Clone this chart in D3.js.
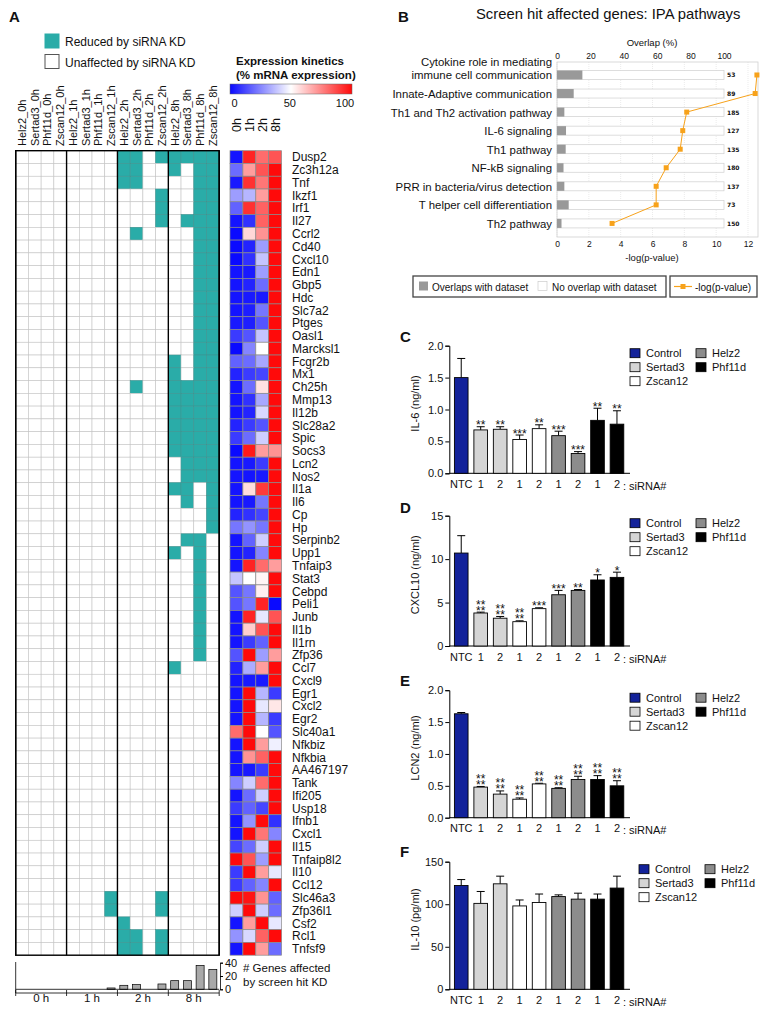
<!DOCTYPE html>
<html>
<head>
<meta charset="utf-8">
<script src="https://cdn.jsdelivr.net/npm/d3@7"></script>
<style>
  body { margin: 0; background: #fff; }
  svg text { font-family: "Liberation Sans", Arial, sans-serif; fill: #111; }
</style>
</head>
<body>
<svg id="fig" width="768" height="1015"></svg>
<script>
// ---------------- Panel A data ----------------
var kdColumns = ["Helz2_0h", "Sertad3_0h", "Phf11d_0h", "Zscan12_0h",
                 "Helz2_1h", "Sertad3_1h", "Phf11d_1h", "Zscan12_1h",
                 "Helz2_2h", "Sertad3_2h", "Phf11d_2h", "Zscan12_2h",
                 "Helz2_8h", "Sertad3_8h", "Phf11d_8h", "Zscan12_8h"];
var timeGroups = ["0 h", "1 h", "2 h", "8 h"];
var timepoints = ["0h", "1h", "2h", "8h"];

var genes = ["Dusp2", "Zc3h12a", "Tnf", "Ikzf1", "Irf1", "Il27", "Ccrl2", "Cd40", "Cxcl10", "Edn1",
             "Gbp5", "Hdc", "Slc7a2", "Ptges", "Oasl1", "Marcksl1", "Fcgr2b", "Mx1", "Ch25h", "Mmp13",
             "Il12b", "Slc28a2", "Spic", "Socs3", "Lcn2", "Nos2", "Il1a", "Il6", "Cp", "Hp",
             "Serpinb2", "Upp1", "Tnfaip3", "Stat3", "Cebpd", "Peli1", "Junb", "Il1b", "Il1rn", "Zfp36",
             "Ccl7", "Cxcl9", "Egr1", "Cxcl2", "Egr2", "Slc40a1", "Nfkbiz", "Nfkbia", "AA467197", "Tank",
             "Ifi205", "Usp18", "Ifnb1", "Cxcl1", "Il15", "Tnfaip8l2", "Il10", "Ccl12", "Slc46a3", "Zfp36l1",
             "Csf2", "Rcl1", "Tnfsf9"];

// 1 = reduced by siRNA KD, one character per kdColumns entry
var kdHits = [
  "0000000011011111", "0000000011001011", "0000000011000011", "0000000000010011", "0000000000010011",
  "0000000000010111", "0000000001000011", "0000000000000011", "0000000000000011", "0000000000000011",
  "0000000000000011", "0000000000000011", "0000000000000011", "0000000000000011", "0000000000000011",
  "0000000000000011", "0000000000001011", "0000000000001011", "0000000001001111", "0000000000001111",
  "0000000000001111", "0000000000001111", "0000000000001111", "0000000000001111", "0000000000000111",
  "0000000000000111", "0000000000001101", "0000000000000101", "0000000000000001", "0000000000000001",
  "0000000000000110", "0000000000001010", "0000000000000010", "0000000000000010", "0000000000000010",
  "0000000000000010", "0000000000000010", "0000000000000010", "0000000000000010", "0000000000000010",
  "0000000000001000", "0000000000000000", "0000000000000000", "0000000000000000", "0000000000000000",
  "0000000000000000", "0000000000000000", "0000000000000000", "0000000000000000", "0000000000000000",
  "0000000000000000", "0000000000000000", "0000000000000000", "0000000000000000", "0000000000000000",
  "0000000000000000", "0000000000000000", "0000000000000000", "0000000100010000", "0000000100010000",
  "0000000010000000", "0000000011010000", "0000000011010000"];

// % mRNA expression at 0h, 1h, 2h, 8h
var kinetics = [
  [2, 95, 80, 85], [20, 70, 85, 100], [3, 92, 78, 100], [30, 35, 70, 100], [18, 92, 82, 100],
  [2, 8, 82, 100], [0, 58, 72, 100], [0, 5, 30, 100], [0, 8, 38, 100], [2, 3, 30, 100],
  [2, 5, 20, 100], [2, 3, 3, 100], [2, 4, 22, 100], [3, 4, 15, 100], [10, 15, 38, 100],
  [0, 25, 50, 100], [18, 20, 32, 100], [5, 10, 12, 100], [2, 20, 56, 100], [2, 8, 32, 100],
  [2, 5, 42, 100], [5, 10, 15, 100], [10, 20, 40, 100], [0, 97, 70, 72], [2, 3, 10, 100],
  [2, 2, 3, 100], [2, 57, 90, 100], [2, 3, 22, 100], [5, 8, 12, 100], [22, 28, 22, 100],
  [2, 18, 40, 100], [2, 5, 25, 100], [2, 95, 80, 70], [38, 50, 52, 100], [15, 22, 53, 100],
  [15, 22, 95, 0], [2, 95, 45, 85], [2, 60, 85, 100], [2, 10, 18, 100], [15, 100, 30, 70],
  [5, 33, 70, 100], [2, 3, 3, 100], [2, 100, 35, 10], [2, 100, 45, 55], [2, 100, 35, 10],
  [80, 100, 50, 15], [2, 100, 70, 47], [2, 72, 82, 100], [2, 3, 10, 100], [25, 40, 80, 100],
  [2, 20, 40, 100], [10, 18, 12, 100], [2, 28, 100, 8], [2, 100, 78, 25], [12, 20, 40, 100],
  [100, 85, 30, 100], [10, 100, 70, 45], [10, 18, 25, 100], [100, 98, 72, 18], [40, 100, 40, 20],
  [2, 70, 100, 45], [28, 42, 82, 100], [2, 100, 70, 20]];

// ---------------- Panel B data ----------------
var pathwayLabels = [["Cytokine role in mediating", "immune cell communication"],
                     ["Innate-Adaptive communication"], ["Th1 and Th2 activation pathway"],
                     ["IL-6 signaling"], ["Th1 pathway"], ["NF-kB signaling"],
                     ["PRR in bacteria/virus detection"], ["T helper cell differentiation"], ["Th2 pathway"]];
var pathwayOverlap = [15.2, 10.0, 4.4, 5.4, 5.2, 3.9, 4.4, 7.0, 2.7];
var pathwaySize = [53, 89, 185, 127, 135, 180, 137, 73, 150];
var pathwayLogP = [12.56, 12.45, 8.15, 7.9, 7.74, 6.86, 6.23, 6.23, 3.46];

// ---------------- Panels C-F data ----------------
var sirnaLabels = ["NTC", "1", "2", "1", "2", "1", "2", "1", "2"];
var sirnaGroups = ["Control", "Sertad3", "Sertad3", "Zscan12", "Zscan12", "Helz2", "Helz2", "Phf11d", "Phf11d"];
var legendOrder = ["Control", "Sertad3", "Zscan12", "Helz2", "Phf11d"];

var il6Mean = [1.50, 0.68, 0.69, 0.53, 0.70, 0.59, 0.31, 0.83, 0.77];
var il6Err = [0.30, 0.05, 0.04, 0.07, 0.06, 0.07, 0.03, 0.19, 0.21];
var il6Stars = [[], ["**"], ["**"], ["***"], ["**"], ["***"], ["***"], ["**"], ["**"]];

var cxcl10Mean = [10.7, 3.8, 3.2, 2.8, 4.3, 5.9, 6.4, 7.6, 7.9];
var cxcl10Err = [2.0, 0.1, 0.2, 0.1, 0.1, 0.5, 0.1, 0.6, 0.6];
var cxcl10Stars = [[], ["**", "**"], ["**", "**"], ["**", "**"], ["***"], ["***"], ["**"], ["*"], ["*"]];

var lcn2Mean = [1.63, 0.48, 0.37, 0.29, 0.53, 0.46, 0.60, 0.60, 0.50];
var lcn2Err = [0.02, 0.01, 0.05, 0.02, 0.01, 0.01, 0.05, 0.06, 0.08];
var lcn2Stars = [[], ["**", "**"], ["**", "**"], ["**", "**"], ["**", "**"], ["**", "**"], ["**", "**"], ["**", "**"], ["**", "**"]];

var il10Mean = [122, 101, 124, 98, 102, 109, 106, 106, 119];
var il10Err = [7, 14, 9, 7, 10, 2, 7, 6, 14];
var il10Stars = [[], [], [], [], [], [], [], [], []];

// ---------------- drawing ----------------
var svg = d3.select("#fig");
var teal = "#2aaca8";

function panelLetter(t, x, y) {
  svg.append("text").attr("x", x).attr("y", y).text(t)
    .style("font-size", "15px").style("font-weight", "bold");
}

//=== Panel A ===
panelLetter("A", 9, 22);

var kdX = d3.scaleBand().domain(kdColumns).range([15.7, 219.2]);
var geneY = d3.scaleBand().domain(genes).range([150.7, 955.2]);
var kinX = d3.scaleBand().domain(timepoints).range([230, 281.6]);
var kinColor = d3.scaleLinear().domain([0, 50, 100]).range(["#0a0aff", "#ffffff", "#ff0a0a"]);

// legend for KD matrix
var kdLegend = [{label: "Reduced by siRNA KD", fill: teal, stroke: teal},
                {label: "Unaffected by siRNA KD", fill: "#fff", stroke: "#555"}];
var kdLeg = svg.append("g").selectAll("g").data(kdLegend).enter().append("g")
  .attr("transform", function (d, i) { return "translate(45," + (34 + i * 20.5) + ")"; });
kdLeg.append("rect").attr("width", 14).attr("height", 14)
  .attr("fill", function (d) { return d.fill; }).attr("stroke", function (d) { return d.stroke; });
kdLeg.append("text").attr("x", 20).attr("y", 12).text(function (d) { return d.label; })
  .style("font-size", "12px");

// column labels
svg.append("g").selectAll("text").data(kdColumns).enter().append("text")
  .attr("transform", function (d) { return "translate(" + (kdX(d) + kdX.bandwidth() / 2 + 4) + ",146) rotate(-90)"; })
  .text(function (d) { return d; })
  .style("font-size", "11px");

// KD cells
var cells = [];
genes.forEach(function (g, i) {
  kdColumns.forEach(function (c, j) { cells.push({gene: g, col: c, hit: kdHits[i][j] === "1"}); });
});
svg.append("g").selectAll("rect").data(cells).enter().append("rect")
  .attr("x", function (d) { return kdX(d.col); })
  .attr("y", function (d) { return geneY(d.gene); })
  .attr("width", kdX.bandwidth()).attr("height", geneY.bandwidth())
  .attr("fill", function (d) { return d.hit ? teal : "#fff"; })
  .attr("stroke", function (d) { return d.hit ? "#3d9491" : "#c4c4c4"; })
  .attr("stroke-width", 0.6);

// group separators and frame
var sepCols = [0, 4, 8, 12];
svg.append("g").selectAll("line").data(sepCols.concat([16])).enter().append("line")
  .attr("x1", function (d) { return d < 16 ? kdX(kdColumns[d]) : kdX.range()[1]; })
  .attr("x2", function (d) { return d < 16 ? kdX(kdColumns[d]) : kdX.range()[1]; })
  .attr("y1", geneY.range()[0]).attr("y2", geneY.range()[1])
  .attr("stroke", "#000").attr("stroke-width", 1.4);
svg.append("rect").attr("x", kdX.range()[0]).attr("y", geneY.range()[0])
  .attr("width", kdX.range()[1] - kdX.range()[0]).attr("height", geneY.range()[1] - geneY.range()[0])
  .attr("fill", "none").attr("stroke", "#000").attr("stroke-width", 1.4);

// expression kinetics heatmap
var kinCells = [];
genes.forEach(function (g, i) {
  timepoints.forEach(function (t, j) { kinCells.push({gene: g, t: t, v: kinetics[i][j]}); });
});
svg.append("g").selectAll("rect").data(kinCells).enter().append("rect")
  .attr("x", function (d) { return kinX(d.t); })
  .attr("y", function (d) { return geneY(d.gene); })
  .attr("width", kinX.bandwidth()).attr("height", geneY.bandwidth())
  .attr("fill", function (d) { return kinColor(d.v); })
  .attr("stroke", "#8a8a8a").attr("stroke-width", 0.7);

svg.append("g").selectAll("text").data(timepoints).enter().append("text")
  .attr("transform", function (d) { return "translate(" + (kinX(d) + kinX.bandwidth() / 2 + 4.5) + ",132) rotate(-90)"; })
  .text(function (d) { return d; })
  .style("font-size", "12.5px");

// gene labels
svg.append("g").selectAll("text").data(genes).enter().append("text")
  .attr("x", 292).attr("y", function (d) { return geneY(d) + geneY.bandwidth() / 2 + 4.3; })
  .text(function (d) { return d; })
  .style("font-size", "12px");

// colour bar
var defs = svg.append("defs");
var grad = defs.append("linearGradient").attr("id", "kinGrad");
[0, 50, 100].forEach(function (v) {
  grad.append("stop").attr("offset", v + "%").attr("stop-color", kinColor(v));
});
svg.append("text").attr("x", 236).attr("y", 65).text("Expression kinetics")
  .style("font-size", "11.5px").style("font-weight", "bold");
svg.append("text").attr("x", 236).attr("y", 79).text("(% mRNA expression)")
  .style("font-size", "11.5px").style("font-weight", "bold");
svg.append("rect").attr("x", 230).attr("y", 84).attr("width", 122).attr("height", 10)
  .attr("fill", "url(#kinGrad)").attr("stroke", "#666").attr("stroke-width", 0.5);
var cbScale = d3.scaleLinear().domain([0, 100]).range([234.5, 345]);
svg.append("g").selectAll("text").data([0, 50, 100]).enter().append("text")
  .attr("x", function (d) { return cbScale(d); }).attr("y", 107)
  .attr("text-anchor", "middle").text(function (d) { return d; })
  .style("font-size", "11px");

// count of affected genes per column
var hitCounts = kdColumns.map(function (c, j) {
  return {col: c, n: d3.sum(kdHits, function (s) { return +s[j]; })};
});
var countY = d3.scaleLinear().domain([0, 40]).range([989.3, 962.7]);
svg.append("g").selectAll("rect").data(hitCounts).enter().append("rect")
  .attr("x", function (d) { return kdX(d.col) + kdX.bandwidth() / 2 - 4; })
  .attr("y", function (d) { return countY(d.n); })
  .attr("width", 8).attr("height", function (d) { return countY(0) - countY(d.n); })
  .attr("fill", "#a9a9a9").attr("stroke", "#000").attr("stroke-width", 0.7);
var countAxis = svg.append("g").attr("transform", "translate(220,0)")
  .call(d3.axisRight(countY).tickValues([0, 20, 40]).tickSize(3).tickPadding(2));
countAxis.selectAll("text").style("font-size", "11px");
countAxis.select(".domain").attr("stroke-width", 0.8);
svg.append("line").attr("x1", kdX.range()[0]).attr("x2", kdX.range()[1])
  .attr("y1", countY(0)).attr("y2", countY(0)).attr("stroke", "#000").attr("stroke-width", 0.8);
svg.append("line").attr("x1", kdX.range()[0]).attr("x2", kdX.range()[0])
  .attr("y1", 962).attr("y2", 993).attr("stroke", "#000").attr("stroke-width", 0.8);
svg.append("line").attr("x1", kdX.range()[0]).attr("x2", kdX.range()[1])
  .attr("y1", 993).attr("y2", 993).attr("stroke", "#000").attr("stroke-width", 0.8);
svg.append("g").selectAll("line").data([0, 4, 8, 12, 16]).enter().append("line")
  .attr("x1", function (d) { return d < 16 ? kdX(kdColumns[d]) : kdX.range()[1]; })
  .attr("x2", function (d) { return d < 16 ? kdX(kdColumns[d]) : kdX.range()[1]; })
  .attr("y1", 990).attr("y2", 996).attr("stroke", "#000").attr("stroke-width", 0.8);
svg.append("g").selectAll("text").data(timeGroups).enter().append("text")
  .attr("x", function (d, i) { return kdX(kdColumns[i * 4]) + kdX.bandwidth() * 2; })
  .attr("y", 1002).attr("text-anchor", "middle").text(function (d) { return d; })
  .style("font-size", "11.5px");
svg.append("text").attr("x", 243).attr("y", 972).text("# Genes affected").style("font-size", "11.5px");
svg.append("text").attr("x", 243).attr("y", 986).text("by screen hit KD").style("font-size", "11.5px");

//=== Panel B ===
panelLetter("B", 398, 22);
svg.append("text").attr("x", 476).attr("y", 19).text("Screen hit affected genes: IPA pathways")
  .style("font-size", "14.8px");

var ipaOverlapX = d3.scaleLinear().domain([0, 100]).range([557, 724]);
var ipaLogX = d3.scaleLinear().domain([0, 12]).range([557, 748]);
var ipaY = d3.scaleBand().domain(d3.range(pathwayLabels.length)).range([65.7, 232.7]);
var plotTop = 62, plotBottom = 237, plotRight = 758;

svg.append("g").selectAll("line").data(ipaLogX.ticks(6)).enter().append("line")
  .attr("x1", function (d) { return ipaLogX(d); }).attr("x2", function (d) { return ipaLogX(d); })
  .attr("y1", plotTop).attr("y2", plotBottom)
  .attr("stroke", "#e2e2e2").attr("stroke-width", 0.7).attr("stroke-dasharray", "1,1");
svg.append("rect").attr("x", 557).attr("y", plotTop).attr("width", plotRight - 557)
  .attr("height", plotBottom - plotTop).attr("fill", "none").attr("stroke", "#d0d0d0").attr("stroke-width", 0.8);

var topAx = svg.append("g").attr("transform", "translate(0," + plotTop + ")")
  .call(d3.axisTop(ipaOverlapX).tickValues([0, 20, 40, 60, 80, 100]).tickSize(0).tickPadding(3));
topAx.select(".domain").remove();
topAx.selectAll("text").style("font-size", "8.5px");
var botAx = svg.append("g").attr("transform", "translate(0," + plotBottom + ")")
  .call(d3.axisBottom(ipaLogX).tickValues([0, 2, 4, 6, 8, 10, 12]).tickSize(0).tickPadding(4));
botAx.select(".domain").remove();
botAx.selectAll("text").style("font-size", "8.5px");
svg.append("text").attr("x", 652).attr("y", 46).attr("text-anchor", "middle").text("Overlap (%)")
  .style("font-size", "9.5px");
svg.append("text").attr("x", 652).attr("y", 261).attr("text-anchor", "middle").text("-log(p-value)")
  .style("font-size", "9.5px");

var rowsB = svg.append("g").selectAll("g").data(pathwayLabels).enter().append("g")
  .attr("transform", function (d, i) { return "translate(0," + (ipaY(i) + ipaY.bandwidth() / 2) + ")"; });
rowsB.append("rect").attr("x", ipaOverlapX(0)).attr("y", -4.5)
  .attr("width", ipaOverlapX(100) - ipaOverlapX(0)).attr("height", 9)
  .attr("fill", "#fff").attr("stroke", "#cfcfcf").attr("stroke-width", 0.7);
rowsB.append("rect").attr("x", ipaOverlapX(0)).attr("y", -4.5)
  .attr("width", function (d, i) { return ipaOverlapX(pathwayOverlap[i]) - ipaOverlapX(0); })
  .attr("height", 9).attr("fill", "#999");
rowsB.append("text").attr("x", 727).attr("y", 2.5)
  .text(function (d, i) { return pathwaySize[i]; })
  .style("font-family", "'DejaVu Sans', Verdana, sans-serif").style("font-size", "6px").style("font-weight", "bold");
rowsB.each(function (d) {
  var g = d3.select(this);
  d.forEach(function (line, k) {
    g.append("text").attr("x", 552).attr("y", 4.5 - (d.length - 1 - k) * 13.5)
      .attr("text-anchor", "end").text(line).style("font-size", "11.4px");
  });
});

var orange = "#f7a21b";
var logLine = d3.line()
  .x(function (d) { return ipaLogX(d); })
  .y(function (d, i) { return ipaY(i) + ipaY.bandwidth() / 2; });
svg.append("path").datum(pathwayLogP).attr("d", logLine)
  .attr("fill", "none").attr("stroke", orange).attr("stroke-width", 1);
svg.append("g").selectAll("rect").data(pathwayLogP).enter().append("rect")
  .attr("x", function (d) { return ipaLogX(d) - 2.5; })
  .attr("y", function (d, i) { return ipaY(i) + ipaY.bandwidth() / 2 - 2.5; })
  .attr("width", 5).attr("height", 5).attr("fill", orange);

// legend boxes
var legB = svg.append("g");
legB.append("rect").attr("x", 413).attr("y", 276).attr("width", 253).attr("height", 21)
  .attr("fill", "#fff").attr("stroke", "#444").attr("stroke-width", 1.3);
legB.append("rect").attr("x", 419).attr("y", 281.5).attr("width", 9).attr("height", 9).attr("fill", "#999");
legB.append("text").attr("x", 432).attr("y", 290.5).text("Overlaps with dataset").style("font-size", "10px");
legB.append("rect").attr("x", 538).attr("y", 281.5).attr("width", 9).attr("height", 9)
  .attr("fill", "#fff").attr("stroke", "#ccc").attr("stroke-width", 0.7);
legB.append("text").attr("x", 552).attr("y", 290.5).text("No overlap with dataset").style("font-size", "10px");
legB.append("rect").attr("x", 670).attr("y", 276).attr("width", 87).attr("height", 21)
  .attr("fill", "#fff").attr("stroke", "#444").attr("stroke-width", 1.3);
legB.append("line").attr("x1", 674).attr("x2", 692).attr("y1", 286.5).attr("y2", 286.5)
  .attr("stroke", orange).attr("stroke-width", 1.2);
legB.append("rect").attr("x", 680.5).attr("y", 284).attr("width", 5).attr("height", 5).attr("fill", orange);
legB.append("text").attr("x", 695).attr("y", 290.5).text("-log(p-value)").style("font-size", "10px");

//=== Panels C-F ===
var groupFill = {Control: "#13229a", Sertad3: "#d5d5d5", Zscan12: "#ffffff", Helz2: "#8c8c8c", Phf11d: "#000000"};

function barPanel(p) {
  panelLetter(p.letter, 400, p.letterY);
  var g = svg.append("g");
  var y = d3.scaleLinear().domain([0, p.max]).range([p.bottom, p.top]);
  var x = d3.scaleBand().domain(d3.range(sirnaLabels.length)).range([451.5, 626.7])
    .paddingInner(0.3).paddingOuter(0.15);

  var yAx = g.append("g").attr("transform", "translate(449.3,0)")
    .call(d3.axisLeft(y).tickValues(p.ticks).tickFormat(p.fmt).tickSize(4).tickPadding(2));
  yAx.selectAll("text").style("font-size", "11px");
  var xAx = g.append("g").attr("transform", "translate(0," + p.bottom + ")")
    .call(d3.axisBottom(x).tickFormat(function (i) { return sirnaLabels[i]; }).tickSize(0).tickPadding(7));
  xAx.select(".domain").attr("d", "M449.3,0H630");
  xAx.selectAll("text").style("font-size", "11px");
  g.append("text").attr("x", 623).attr("y", p.bottom + 16.5).text(": siRNA#").style("font-size", "11px");

  g.append("text")
    .attr("transform", "translate(419," + ((p.top + p.bottom) / 2 - 6) + ") rotate(-90)")
    .attr("text-anchor", "middle").text(p.ylabel).style("font-size", "11px");

  var bars = g.selectAll("g.bar").data(p.mean).enter().append("g").attr("class", "bar");
  bars.append("line")
    .attr("x1", function (d, i) { return x(i) + x.bandwidth() / 2; })
    .attr("x2", function (d, i) { return x(i) + x.bandwidth() / 2; })
    .attr("y1", function (d) { return y(d); })
    .attr("y2", function (d, i) { return y(d + p.err[i]); })
    .attr("stroke", "#000").attr("stroke-width", 1);
  bars.append("line")
    .attr("x1", function (d, i) { return x(i) + x.bandwidth() / 2 - 4; })
    .attr("x2", function (d, i) { return x(i) + x.bandwidth() / 2 + 4; })
    .attr("y1", function (d, i) { return y(d + p.err[i]); })
    .attr("y2", function (d, i) { return y(d + p.err[i]); })
    .attr("stroke", "#000").attr("stroke-width", 1);
  bars.append("rect")
    .attr("x", function (d, i) { return x(i); })
    .attr("y", function (d) { return y(d); })
    .attr("width", x.bandwidth())
    .attr("height", function (d) { return y(0) - y(d); })
    .attr("fill", function (d, i) { return groupFill[sirnaGroups[i]]; })
    .attr("stroke", "#000").attr("stroke-width", 0.9);
  // significance stars: one text element per bar, stacked lines as tspans
  bars.each(function (d, i) {
    var lines = p.stars[i];
    if (!lines.length) return;
    var cx = x(i) + x.bandwidth() / 2;
    var base = y(d + p.err[i]) + 2.5;
    var t = d3.select(this).append("text")
      .attr("text-anchor", "middle").style("font-size", "12px");
    lines.forEach(function (s, k) {
      t.append("tspan").attr("x", cx)
        .attr("y", base - (lines.length - 1 - k) * 6).text(s);
    });
  });

  var leg = g.append("g").attr("transform", "translate(" + p.legendX + "," + (p.top + 3) + ")");
  var items = leg.selectAll("g").data(legendOrder).enter().append("g")
    .attr("transform", function (d, i) {
      return "translate(" + (i < 3 ? 0 : 66) + "," + ((i < 3 ? i : i - 3) * 14) + ")";
    });
  items.append("rect").attr("width", 10).attr("height", 9)
    .attr("fill", function (d) { return groupFill[d]; }).attr("stroke", "#000").attr("stroke-width", 0.8);
  items.append("text").attr("x", 16).attr("y", 8.5).text(function (d) { return d; }).style("font-size", "11px");
}

barPanel({letter: "C", letterY: 342, top: 345.7, bottom: 473.3, max: 2, ticks: [0, 0.5, 1, 1.5, 2],
  fmt: d3.format(".1f"), ylabel: "IL-6 (ng/ml)", mean: il6Mean, err: il6Err, stars: il6Stars, legendX: 630});
barPanel({letter: "D", letterY: 513, top: 515.7, bottom: 646, max: 15, ticks: [0, 5, 10, 15],
  fmt: d3.format("d"), ylabel: "CXCL10 (ng/ml)", mean: cxcl10Mean, err: cxcl10Err, stars: cxcl10Stars, legendX: 630});
barPanel({letter: "E", letterY: 686, top: 690.2, bottom: 817.7, max: 2, ticks: [0, 0.5, 1, 1.5, 2],
  fmt: d3.format(".1f"), ylabel: "LCN2 (ng/ml)", mean: lcn2Mean, err: lcn2Err, stars: lcn2Stars, legendX: 630});
barPanel({letter: "F", letterY: 857, top: 861.7, bottom: 989.3, max: 150, ticks: [0, 50, 100, 150],
  fmt: d3.format("d"), ylabel: "IL-10 (pg/ml)", mean: il10Mean, err: il10Err, stars: il10Stars, legendX: 639});
</script>
</body>
</html>
